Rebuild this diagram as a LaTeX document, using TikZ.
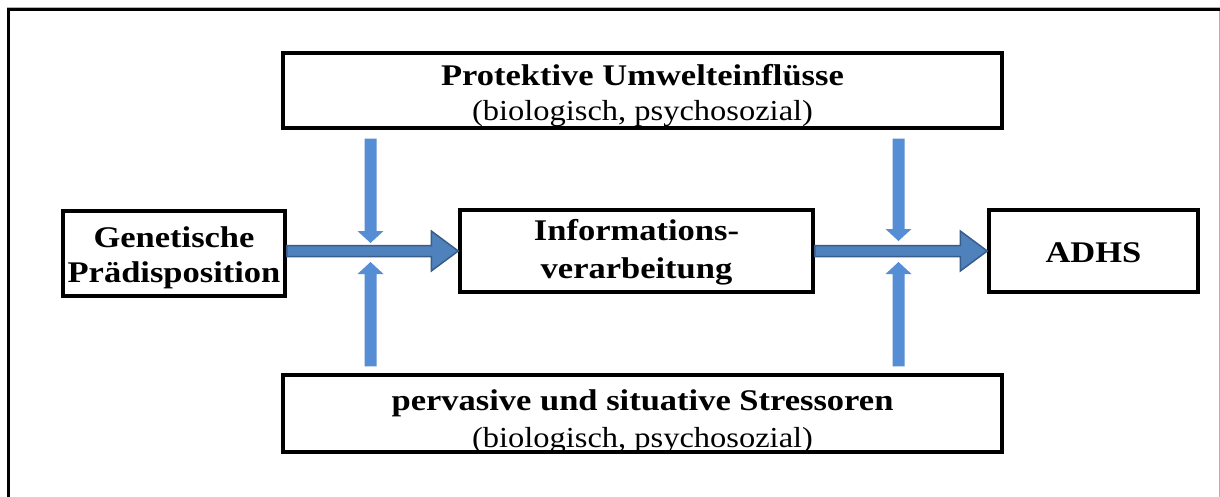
\documentclass[tikz,border=0pt]{standalone}
\usepackage{fontspec}
\setmainfont{Liberation Serif}[FakeStretch=1.12, BoldFeatures={FakeStretch=1.15}]
\usetikzlibrary{calc}
\definecolor{hfill}{HTML}{4F81BD}
\definecolor{hdraw}{HTML}{385D8A}
\definecolor{vfill}{HTML}{558ED5}
\newcommand{\bsz}{\fontsize{30}{35}\selectfont\bfseries}
\tikzset{
  box/.style={draw=black, line width=3.5pt, inner sep=0pt},
  txt/.style={align=center, inner sep=0pt, font=\fontsize{29}{35}\selectfont},
  harrow/.style={fill=hfill, draw=hdraw, line width=1.5pt, line join=miter},
  varrow/.style={fill=vfill, draw=none},
}
\begin{document}
\begin{tikzpicture}[x=1pt,y=-1pt]
\useasboundingbox (0,0) rectangle (1220,497);
\fill[white] (0,0) rectangle (1220,497);
% outer frame
\draw[black!30, line width=1pt] (1219.5,7) -- (1219.5,497);
\draw[black!30, line width=1pt] (7,7.5) -- (1220,7.5);
\draw[black, line width=3pt] (8.5,9.5) -- (1220,9.5);
\draw[black, line width=3pt] (8.5,8) -- (8.5,497);
% boxes
\node[box, minimum width=719pt, minimum height=75pt] (top) at (642.5,90.5) {};
\node[box, minimum width=719pt, minimum height=77pt] (bot) at (642.5,413.5) {};
\node[box, minimum width=222pt, minimum height=85pt] (gen) at (174,253.5) {};
\node[box, minimum width=353pt, minimum height=82pt] (inf) at (636.5,251) {};
\node[box, minimum width=209pt, minimum height=82pt] (adhs) at (1093.5,251) {};
% texts
\node[txt] (toptxt) at ($(top.center)+(0,5)$) {{\bsz Protektive Umwelteinflüsse}\\(biologisch, psychosozial)};
\node[txt, font=\fontsize{29}{37}\selectfont] (bottxt) at ($(bot.center)+(0,8)$) {{\bsz pervasive und situative Stressoren}\\(biologisch, psychosozial)};
\node[txt, font=\bsz] (gentxt) at ($(gen.center)+(0,4)$) {Genetische\\Prädisposition};
\node[txt, font=\fontsize{30}{38}\selectfont\bfseries] (inftxt) at ($(inf.center)+(0,1)$) {Informations-\\verarbeitung};
\node[txt, font=\bsz] (adhstxt) at ($(adhs.center)+(0,2)$) {ADHS};
% horizontal arrows
\coordinate (g1) at (gen.east |- inf.west);
\draw[harrow] ($(g1)+(0,-5.5)$) -- ($(inf.west)+(-27,-5.5)$) -- ($(inf.west)+(-27,-20)$) -- (inf.west)
  -- ($(inf.west)+(-27,20)$) -- ($(inf.west)+(-27,5.5)$) -- ($(g1)+(0,5.5)$) -- cycle;
\draw[harrow] ($(inf.east)+(0,-5.5)$) -- ($(adhs.west)+(-27,-5.5)$) -- ($(adhs.west)+(-27,-20)$) -- (adhs.west)
  -- ($(adhs.west)+(-27,20)$) -- ($(adhs.west)+(-27,5.5)$) -- ($(inf.east)+(0,5.5)$) -- cycle;
% vertical arrow tips
\coordinate (d1) at (370.5,243);
\coordinate (u1) at (370.5,262);
\coordinate (d2) at (898.5,241);
\coordinate (u2) at (898.5,262);
% down arrows from top box
\foreach \t in {d1,d2}{
  \fill[varrow] ($(top.south -| \t)+(-6,9)$) -- ($(\t)+(-6,-12)$) -- ($(\t)+(-13,-12)$) -- (\t)
    -- ($(\t)+(13,-12)$) -- ($(\t)+(6,-12)$) -- ($(top.south -| \t)+(6,9)$) -- cycle;
}
% up arrows from bottom box
\foreach \t in {u1,u2}{
  \fill[varrow] ($(bot.north -| \t)+(-6,-7)$) -- ($(\t)+(-6,12)$) -- ($(\t)+(-13,12)$) -- (\t)
    -- ($(\t)+(13,12)$) -- ($(\t)+(6,12)$) -- ($(bot.north -| \t)+(6,-7)$) -- cycle;
}
\end{tikzpicture}
\end{document}
